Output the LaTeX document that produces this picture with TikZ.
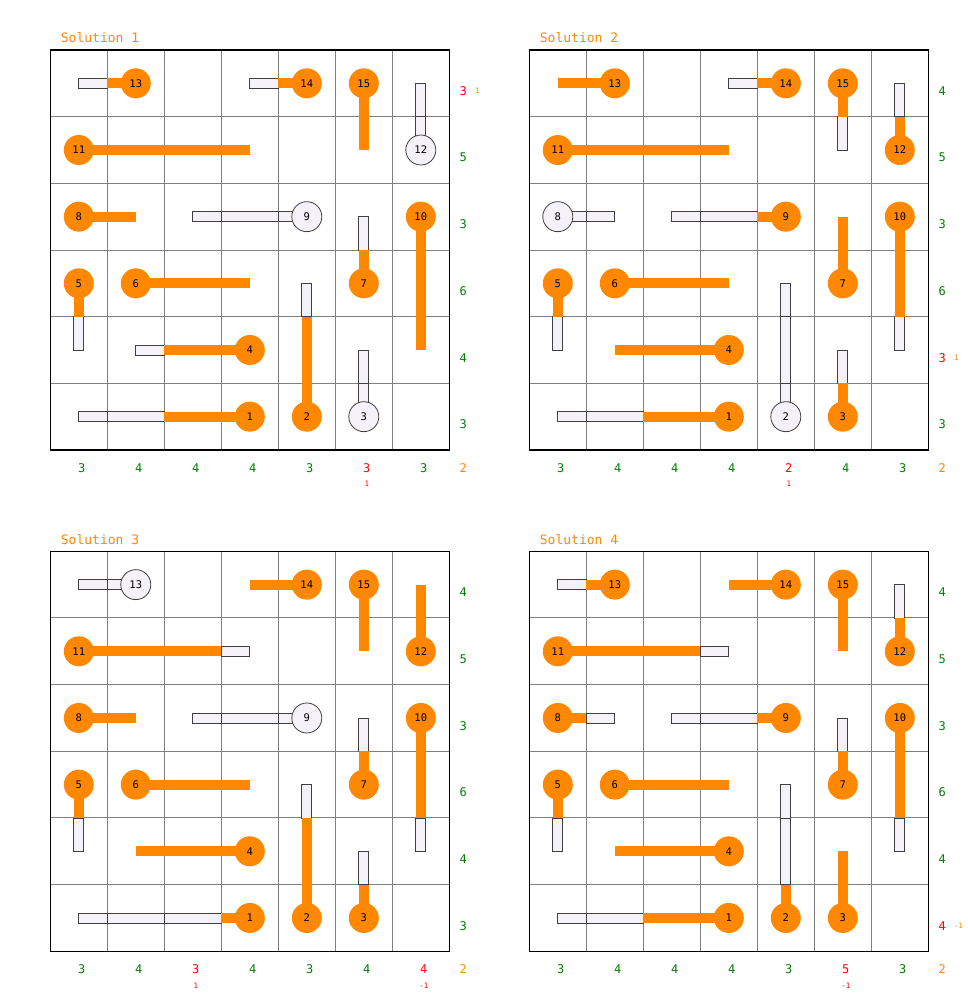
\documentclass[tikz,border=0pt]{standalone}
\usepackage{fontspec}
\setmainfont{DejaVu Sans Mono}
\definecolor{lamporange}{HTML}{FF8800}
\definecolor{offfill}{HTML}{F4F2F8}
\definecolor{offline}{HTML}{404040}
\definecolor{gridgray}{HTML}{808080}
\definecolor{okgreen}{HTML}{008000}
\definecolor{badred}{HTML}{FF0000}
\tikzset{
  offbar/.style={fill=offfill,draw=offline,line width=0.9pt},
  onlamp/.style={circle,fill=lamporange,inner sep=0pt,minimum size=30pt,font=\fontsize{10.5}{10.5}\selectfont},
  offlamp/.style={circle,fill=offfill,draw=offline,line width=0.8pt,inner sep=0pt,minimum size=30pt,font=\fontsize{10.5}{10.5}\selectfont},
  gridline/.style={draw=gridgray,line width=1pt},
  frameline/.style={draw=black,line width=1.6pt},
  titletext/.style={text=lamporange,anchor=base west,inner sep=0pt,font=\fontsize{13}{13}\selectfont},
  oklabel/.style={text=okgreen,inner sep=0pt,font=\fontsize{12}{12}\selectfont},
  badlabel/.style={text=badred,inner sep=0pt,font=\fontsize{12}{12}\selectfont},
  sumlabel/.style={text=lamporange,inner sep=0pt,font=\fontsize{12}{12}\selectfont},
  smallred/.style={text=badred,inner sep=0pt,font=\fontsize{7.5}{7.5}\selectfont},
  smallorange/.style={text=lamporange,inner sep=0pt,font=\fontsize{7.5}{7.5}\selectfont},
}
% #1 col, #2 row, #3 dx, #4 dy, #5 length, #6 lit cells (-1 = off), #7 label
\newcommand\lampbar[7]{%
  \pgfmathsetmacro\cx{57*#1+28.5}%
  \pgfmathsetmacro\cy{200/3*#2+100/3}%
  \pgfmathsetmacro\sx{57*#3}%
  \pgfmathsetmacro\sy{200/3*#4}%
  \pgfmathsetmacro\wx{5*abs(#4)}%
  \pgfmathsetmacro\wy{5*abs(#3)}%
  \ifnum#6<#5\relax
    \pgfmathtruncatemacro\jfirst{#6+1}%
    \foreach \j in {\jfirst,...,#5}{%
      \pgfmathsetmacro\ta{max(\j-0.5,0)}%
      \pgfmathsetmacro\tb{min(\j+0.5,#5)}%
      \draw[offbar] ({\cx+\ta*\sx-\wx},{\cy+\ta*\sy-\wy}) rectangle ({\cx+\tb*\sx+\wx},{\cy+\tb*\sy+\wy});
    }%
  \fi
  \ifnum#6<0\relax
    \node[offlamp] (\pfx#7) at (\cx,\cy) {#7};
  \else
    \pgfmathsetmacro\tb{min(#6+0.5,#5)}%
    \fill[lamporange] ({\cx-\wx},{\cy-\wy}) rectangle ({\cx+\tb*\sx+\wx},{\cy+\tb*\sy+\wy});
    \node[onlamp] (\pfx#7) at (\cx,\cy) {#7};
  \fi
}
\newcommand\panelgrid{%
  \foreach \c in {1,...,6}{\draw[gridline] ({57*\c},0) -- ({57*\c},400);}
  \foreach \r in {1,...,5}{\draw[gridline] (0,{200/3*\r}) -- (399,{200/3*\r});}
  \draw[frameline] (0,0) rectangle (399,400);
}
% row label: #1 row, #2 style, #3 text
\newcommand\rowlab[3]{\node[#2] (\pfx r#1) at (413,{200/3*#1+100/3+7.7}) {#3};}
\newcommand\collab[3]{\node[#2] (\pfx c#1) at ({57*#1+31.5},418) {#3};}
\begin{document}
\begin{tikzpicture}[x=1pt,y=-1pt]
\useasboundingbox (0,0) rectangle (968,1006);
\fill[white] (0,0) rectangle (968,1006);

% ---------------- Solution 1
\begin{scope}[shift={(50.3,50)}]
\def\pfx{a}
\node[titletext] (atitle) at (10.4,-7.3) {Solution 1};
\panelgrid
\lampbar{1}{0}{-1}{0}{1}{0}{13}
\lampbar{4}{0}{-1}{0}{1}{0}{14}
\lampbar{5}{0}{0}{1}{1}{1}{15}
\lampbar{6}{1}{0}{-1}{1}{-1}{12}
\lampbar{0}{1}{1}{0}{3}{3}{11}
\lampbar{0}{2}{1}{0}{1}{1}{8}
\lampbar{4}{2}{-1}{0}{2}{-1}{9}
\lampbar{6}{2}{0}{1}{2}{2}{10}
\lampbar{0}{3}{0}{1}{1}{0}{5}
\lampbar{1}{3}{1}{0}{2}{2}{6}
\lampbar{5}{3}{0}{-1}{1}{0}{7}
\lampbar{3}{4}{-1}{0}{2}{1}{4}
\lampbar{4}{5}{0}{-1}{2}{1}{2}
\lampbar{5}{5}{0}{-1}{1}{-1}{3}
\lampbar{3}{5}{-1}{0}{3}{1}{1}
\rowlab{0}{badlabel}{3}\node[smallorange] (ar0x) at (427,{100/3+7.7}) {1};
\rowlab{1}{oklabel}{5}
\rowlab{2}{oklabel}{3}
\rowlab{3}{oklabel}{6}
\rowlab{4}{oklabel}{4}
\rowlab{5}{oklabel}{3}
\collab{0}{oklabel}{3}
\collab{1}{oklabel}{4}
\collab{2}{oklabel}{4}
\collab{3}{oklabel}{4}
\collab{4}{oklabel}{3}
\collab{5}{badlabel}{3}\node[smallred] (ac5x) at ({57*5+31.5},434) {1};
\collab{6}{oklabel}{3}
\node[sumlabel] (asum) at (413,418) {2};
\end{scope}

% ---------------- Solution 2
\begin{scope}[shift={(529.3,50)}]
\def\pfx{b}
\node[titletext] (btitle) at (10.4,-7.3) {Solution 2};
\panelgrid
\lampbar{1}{0}{-1}{0}{1}{1}{13}
\lampbar{4}{0}{-1}{0}{1}{0}{14}
\lampbar{5}{0}{0}{1}{1}{0}{15}
\lampbar{6}{1}{0}{-1}{1}{0}{12}
\lampbar{0}{1}{1}{0}{3}{3}{11}
\lampbar{0}{2}{1}{0}{1}{-1}{8}
\lampbar{4}{2}{-1}{0}{2}{0}{9}
\lampbar{6}{2}{0}{1}{2}{1}{10}
\lampbar{5}{3}{0}{-1}{1}{1}{7}
\lampbar{0}{3}{0}{1}{1}{0}{5}
\lampbar{1}{3}{1}{0}{2}{2}{6}
\lampbar{3}{4}{-1}{0}{2}{2}{4}
\lampbar{4}{5}{0}{-1}{2}{-1}{2}
\lampbar{5}{5}{0}{-1}{1}{0}{3}
\lampbar{3}{5}{-1}{0}{3}{1}{1}
\rowlab{0}{oklabel}{4}
\rowlab{1}{oklabel}{5}
\rowlab{2}{oklabel}{3}
\rowlab{3}{oklabel}{6}
\rowlab{4}{badlabel}{3}\node[smallorange] (br4x) at (427,{200/3*4+100/3+7.7}) {1};
\rowlab{5}{oklabel}{3}
\collab{0}{oklabel}{3}
\collab{1}{oklabel}{4}
\collab{2}{oklabel}{4}
\collab{3}{oklabel}{4}
\collab{4}{badlabel}{2}\node[smallred] (bc4x) at ({57*4+31.5},434) {1};
\collab{5}{oklabel}{4}
\collab{6}{oklabel}{3}
\node[sumlabel] (bsum) at (413,418) {2};
\end{scope}

% ---------------- Solution 3
\begin{scope}[shift={(50.3,551.3)}]
\def\pfx{c}
\node[titletext] (ctitle) at (10.4,-7.3) {Solution 3};
\panelgrid
\lampbar{1}{0}{-1}{0}{1}{-1}{13}
\lampbar{4}{0}{-1}{0}{1}{1}{14}
\lampbar{5}{0}{0}{1}{1}{1}{15}
\lampbar{6}{1}{0}{-1}{1}{1}{12}
\lampbar{0}{1}{1}{0}{3}{2}{11}
\lampbar{0}{2}{1}{0}{1}{1}{8}
\lampbar{4}{2}{-1}{0}{2}{-1}{9}
\lampbar{6}{2}{0}{1}{2}{1}{10}
\lampbar{0}{3}{0}{1}{1}{0}{5}
\lampbar{1}{3}{1}{0}{2}{2}{6}
\lampbar{5}{3}{0}{-1}{1}{0}{7}
\lampbar{3}{4}{-1}{0}{2}{2}{4}
\lampbar{4}{5}{0}{-1}{2}{1}{2}
\lampbar{5}{5}{0}{-1}{1}{0}{3}
\lampbar{3}{5}{-1}{0}{3}{0}{1}
\rowlab{0}{oklabel}{4}
\rowlab{1}{oklabel}{5}
\rowlab{2}{oklabel}{3}
\rowlab{3}{oklabel}{6}
\rowlab{4}{oklabel}{4}
\rowlab{5}{oklabel}{3}
\collab{0}{oklabel}{3}
\collab{1}{oklabel}{4}
\collab{2}{badlabel}{3}\node[smallred] (cc2x) at ({57*2+31.5},434) {1};
\collab{3}{oklabel}{4}
\collab{4}{oklabel}{3}
\collab{5}{oklabel}{4}
\collab{6}{badlabel}{4}\node[smallred] (cc6x) at ({57*6+31.5},434) {-1};
\node[sumlabel] (csum) at (413,418) {2};
\end{scope}

% ---------------- Solution 4
\begin{scope}[shift={(529.3,551.3)}]
\def\pfx{d}
\node[titletext] (dtitle) at (10.4,-7.3) {Solution 4};
\panelgrid
\lampbar{1}{0}{-1}{0}{1}{0}{13}
\lampbar{4}{0}{-1}{0}{1}{1}{14}
\lampbar{5}{0}{0}{1}{1}{1}{15}
\lampbar{6}{1}{0}{-1}{1}{0}{12}
\lampbar{0}{1}{1}{0}{3}{2}{11}
\lampbar{0}{2}{1}{0}{1}{0}{8}
\lampbar{4}{2}{-1}{0}{2}{0}{9}
\lampbar{6}{2}{0}{1}{2}{1}{10}
\lampbar{0}{3}{0}{1}{1}{0}{5}
\lampbar{1}{3}{1}{0}{2}{2}{6}
\lampbar{5}{3}{0}{-1}{1}{0}{7}
\lampbar{3}{4}{-1}{0}{2}{2}{4}
\lampbar{4}{5}{0}{-1}{2}{0}{2}
\lampbar{5}{5}{0}{-1}{1}{1}{3}
\lampbar{3}{5}{-1}{0}{3}{1}{1}
\rowlab{0}{oklabel}{4}
\rowlab{1}{oklabel}{5}
\rowlab{2}{oklabel}{3}
\rowlab{3}{oklabel}{6}
\rowlab{4}{oklabel}{4}
\rowlab{5}{badlabel}{4}\node[smallorange] (dr5x) at (429,{200/3*5+100/3+7.7}) {-1};
\collab{0}{oklabel}{3}
\collab{1}{oklabel}{4}
\collab{2}{oklabel}{4}
\collab{3}{oklabel}{4}
\collab{4}{oklabel}{3}
\collab{5}{badlabel}{5}\node[smallred] (dc5x) at ({57*5+31.5},434) {-1};
\collab{6}{oklabel}{3}
\node[sumlabel] (dsum) at (413,418) {2};
\end{scope}
\end{tikzpicture}
\end{document}
